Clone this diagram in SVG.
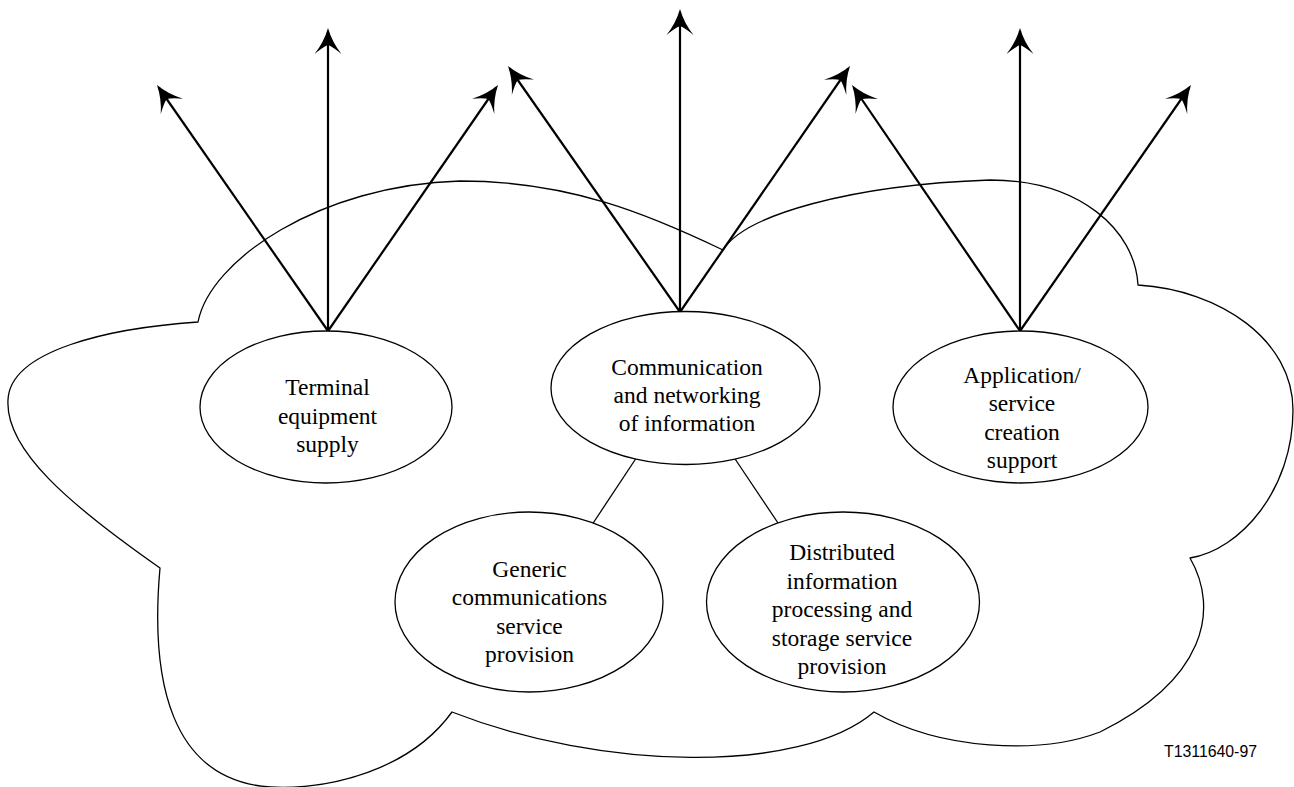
<svg xmlns="http://www.w3.org/2000/svg" width="1294" height="787" viewBox="0 0 1294 787">
  <style>
    .outline { fill: none; stroke: #000; stroke-width: 1.3; stroke-linejoin: round; }
    .node ellipse { fill: #fff; stroke: #000; stroke-width: 1.3; }
    .node text { font-family: "Liberation Serif", "Times New Roman", serif; font-size: 23.5px; fill: #000; text-anchor: middle; }
    .link { stroke: #000; stroke-width: 1.3; fill: none; }
    .arrow { stroke: #000; stroke-width: 2.2; fill: none; marker-end: url(#head); }
    .ref { font-family: "Liberation Sans", Arial, sans-serif; font-size: 16px; fill: #000; }
  </style>
  <defs>
    <!-- barbed arrowhead, tip sits 3px beyond the end of the shaft -->
    <marker id="head" markerUnits="userSpaceOnUse" orient="auto" refX="-3" refY="0" markerWidth="40" markerHeight="40" overflow="visible">
      <path d="M0,0 Q-14,-4 -26,-13.5 Q-19,-5 -17,0 Q-19,5 -26,13.5 Q-14,4 0,0 Z" fill="#000"/>
    </marker>
  </defs>
  <rect width="1294" height="787" fill="#fff"/>

  <!-- cloud boundary -->
  <path id="cloud" class="outline" d="M198,322
    C210,260 320,185 460,181
    C570,181 650,215 723,250
    C745,215 850,185 990,180
    C1080,180 1135,230 1138,285
    C1220,290 1293,340 1293,410
    C1293,490 1240,550 1190,558
    C1220,610 1205,680 1100,732
    C1040,755 940,750 874,712
    C800,775 600,770 452,712
    C410,770 330,790 270,787
    C170,780 150,680 160,568
    C70,505 5,450 8,400
    C10,350 110,328 198,322 Z"/>

  <g id="connectors">
    <line class="link" x1="635.6" y1="459" x2="593.2" y2="523"/>
    <line class="link" x1="735.1" y1="459" x2="778" y2="523"/>

    <line class="arrow" x1="328" y1="331" x2="158.7" y2="87.5"/>
    <line class="arrow" x1="328" y1="331" x2="328" y2="31"/>
    <line class="arrow" x1="328" y1="331" x2="496.3" y2="87.5"/>

    <line class="arrow" x1="680" y1="312" x2="509.7" y2="68.5"/>
    <line class="arrow" x1="680" y1="312" x2="680" y2="12"/>
    <line class="arrow" x1="680" y1="312" x2="848.3" y2="68.5"/>

    <line class="arrow" x1="1020" y1="331" x2="853.7" y2="87.5"/>
    <line class="arrow" x1="1020" y1="331" x2="1020" y2="31"/>
    <line class="arrow" x1="1020" y1="331" x2="1189.3" y2="87.5"/>
  </g>

  <g id="terminal" class="node">
    <ellipse cx="326" cy="407" rx="126" ry="76"/>
    <text x="327.5" y="395">Terminal</text>
    <text x="327.5" y="423.5">equipment</text>
    <text x="327.5" y="452">supply</text>
  </g>

  <g id="communication" class="node">
    <ellipse cx="685.5" cy="388" rx="134.5" ry="76.5"/>
    <text x="687" y="374.5">Communication</text>
    <text x="687" y="402.5">and networking</text>
    <text x="687" y="430.5">of information</text>
  </g>

  <g id="application" class="node">
    <ellipse cx="1020.5" cy="407" rx="127.5" ry="76"/>
    <text x="1022" y="382.5">Application/</text>
    <text x="1022" y="411">service</text>
    <text x="1022" y="439.5">creation</text>
    <text x="1022" y="468">support</text>
  </g>

  <g id="generic" class="node">
    <ellipse cx="529" cy="602" rx="134" ry="90"/>
    <text x="529.5" y="576.5">Generic</text>
    <text x="529.5" y="605">communications</text>
    <text x="529.5" y="633.5">service</text>
    <text x="529.5" y="662">provision</text>
  </g>

  <g id="distributed" class="node">
    <ellipse cx="843" cy="602" rx="136.5" ry="90"/>
    <text x="842" y="560">Distributed</text>
    <text x="842" y="588.5">information</text>
    <text x="842" y="617">processing and</text>
    <text x="842" y="645.5">storage service</text>
    <text x="842" y="674">provision</text>
  </g>

  <text class="ref" x="1164" y="757" textLength="93" lengthAdjust="spacingAndGlyphs">T1311640-97</text>
</svg>
